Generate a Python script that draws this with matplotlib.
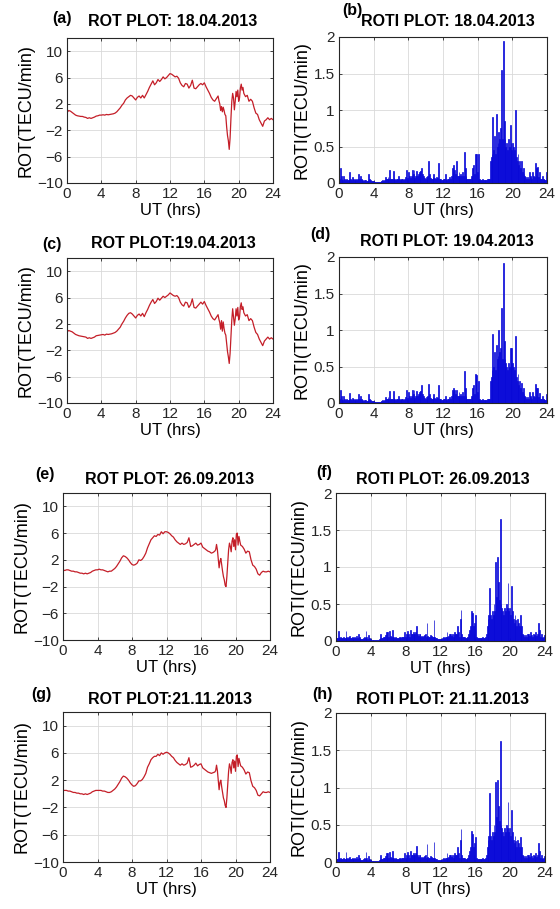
import matplotlib
matplotlib.use('Agg')
import matplotlib.pyplot as plt
import numpy as np

plt.rcParams['font.family'] = ['Liberation Sans', 'DejaVu Sans']

W, H = 560, 909

# ROT sample times (UT hrs): 0.2 h steps, 0.1 h through the evening disturbance
ROT_T = np.round(np.concatenate([np.arange(0, 17.61, 0.2),
                                 np.arange(17.7, 20.61, 0.1),
                                 np.arange(20.8, 24.01, 0.2)]), 2)

# ROT values (TECU/min)
ROT_A = [0.7, 1.0, 0.9, 0.7, 0.5, 0.3, 0.2, 0.15, 0.1, 0.1,
         0.0, -0.05, -0.2, -0.1, -0.2, -0.1, 0.0, 0.15, 0.2, 0.3,
         0.3, 0.35, 0.3, 0.4, 0.35, 0.4, 0.45, 0.5, 0.6, 0.8,
         1.1, 1.4, 1.8, 2.1, 2.6, 2.9, 3.1, 3.3, 3.2, 2.9,
         2.6, 3.0, 3.2, 2.9, 3.3, 2.9, 3.4, 3.9, 4.5, 5.0,
         5.5, 4.9, 5.2, 5.7, 5.4, 5.7, 6.1, 5.8, 6.0, 6.3,
         6.6, 6.5, 6.3, 6.1, 6.2, 5.9, 5.2, 4.8, 4.6, 5.1,
         5.0, 4.4, 4.8, 5.6, 4.4, 4.3, 4.6, 4.9, 5.1, 4.9,
         5.2, 4.6, 4.1, 3.6, 3.0, 2.6, 2.4, 2.8, 3.2,
         2.5, 2.0, 1.0, 1.6, 0.8, 1.5, 1.0, 0.4, 0.2, -1.5,
         -2.8, -3.6, -4.9, -3.2, -0.2, 2.4, 3.6, 2.9, 1.1, 2.4,
         3.9, 3.1, 4.1, 2.4, 2.9, 4.4, 5.0, 4.1, 4.5, 3.6,
         3.1, 3.3, 2.4, 2.7, 2.4, 1.4, 0.6, 0.4, -0.4, -0.9,
         -1.4, -0.6, -0.4, -0.1, -0.4, -0.2, -0.4]

ROT_C = [0.8, 1.0, 0.9, 0.8, 0.6, 0.4, 0.3, 0.2, 0.15, 0.1,
         0.05, 0.0, -0.2, -0.1, -0.2, -0.1, 0.0, 0.2, 0.25, 0.3,
         0.35, 0.4, 0.3, 0.45, 0.4, 0.45, 0.5, 0.6, 0.7, 0.9,
         1.2, 1.5, 2.0, 2.4, 2.9, 3.3, 3.6, 3.7, 3.5, 3.2,
         2.9, 3.3, 3.5, 3.2, 3.6, 3.1, 3.7, 4.2, 4.8, 5.3,
         5.7, 5.1, 5.4, 5.9, 5.6, 5.9, 6.2, 6.0, 6.2, 6.4,
         6.7, 6.5, 6.3, 6.2, 6.3, 6.0, 5.3, 4.9, 4.7, 5.3,
         5.2, 4.5, 4.9, 5.8, 4.5, 4.4, 4.7, 5.0, 5.3, 5.0,
         5.4, 4.8, 4.3, 3.8, 3.2, 2.8, 2.6, 3.0, 3.4,
         2.7, 2.2, 1.2, 2.5, 0.9, 2.3, 1.3, 0.6, 0.3, -1.0,
         -2.2, -3.0, -4.0, -2.5, 0.0, 2.6, 4.3, 3.0, 1.8, 2.8,
         4.3, 3.2, 4.5, 2.6, 3.0, 4.6, 5.2, 4.2, 4.6, 3.7,
         3.2, 3.4, 2.5, 2.8, 2.5, 1.5, 0.7, 0.4, -0.3, -0.8,
         -1.3, -0.6, -0.3, 0.0, -0.3, -0.1, -0.3]

ROT_E = [0.5, 0.4, 0.5, 0.5, 0.4, 0.3, 0.3, 0.2, 0.2, 0.1,
         0.0, 0.0, -0.1, 0.0, -0.1, 0.0, 0.1, 0.3, 0.4, 0.5,
         0.5, 0.6, 0.5, 0.5, 0.4, 0.3, 0.2, 0.3, 0.3, 0.5,
         0.7, 1.0, 1.4, 1.8, 2.3, 2.6, 2.5, 2.3, 2.0, 1.6,
         1.3, 1.2, 1.3, 1.5, 2.0, 1.9, 2.1, 2.5, 3.0, 3.8,
         4.4, 5.0, 5.3, 5.6, 5.5, 5.8, 5.7, 6.2, 5.9, 6.2,
         6.2, 6.1, 5.9, 5.6, 5.4, 5.0, 4.7, 4.5, 4.3, 4.5,
         4.3, 4.4, 4.6, 5.3, 4.0, 4.1, 4.3, 4.5, 4.2, 4.3,
         4.5, 3.9, 3.7, 3.5, 3.3, 3.2, 3.0, 3.1, 3.3,
         3.5, 4.3, 3.5, 2.2, 0.8, 1.8, 2.2, 1.2, 0.3, -0.5,
         -1.0, -1.8, -2.0, -0.5, 1.5, 3.5, 4.5, 4.0, 3.2, 4.8,
         5.3, 4.0, 5.0, 3.5, 5.8, 6.0, 4.2, 5.5, 4.8, 4.2,
         4.0, 3.6, 3.0, 3.3, 3.2, 2.0, 1.2, 1.0, 0.6, -0.1,
         -0.3, 0.1, 0.3, 0.2, 0.2, 0.3, 0.2]

ROT_G = [0.5, 0.5, 0.5, 0.4, 0.4, 0.3, 0.2, 0.2, 0.1, 0.1,
         0.0, 0.0, -0.1, 0.0, -0.1, 0.0, 0.1, 0.3, 0.4, 0.5,
         0.5, 0.5, 0.5, 0.4, 0.4, 0.3, 0.2, 0.2, 0.3, 0.5,
         0.7, 1.0, 1.4, 1.8, 2.3, 2.6, 2.5, 2.3, 2.0, 1.6,
         1.3, 1.1, 1.2, 1.5, 1.9, 1.9, 2.1, 2.5, 3.0, 3.9,
         4.4, 5.0, 5.3, 5.5, 5.5, 5.8, 5.6, 6.0, 5.8, 6.0,
         6.1, 6.0, 5.8, 5.5, 5.3, 4.9, 4.6, 4.4, 4.2, 4.4,
         4.2, 4.3, 4.5, 5.3, 3.9, 4.0, 4.2, 4.5, 4.1, 4.3,
         4.4, 3.8, 3.6, 3.4, 3.2, 3.1, 3.0, 3.1, 3.2,
         3.4, 4.2, 3.4, 2.0, 0.6, 1.7, 2.0, 1.0, 0.2, -0.6,
         -1.0, -1.7, -2.0, -0.6, 1.4, 3.3, 4.4, 3.9, 3.0, 4.6,
         5.0, 3.8, 4.8, 3.3, 5.5, 5.7, 4.0, 5.2, 4.6, 4.1,
         3.9, 3.5, 2.9, 3.2, 3.1, 1.9, 1.1, 0.9, 0.5, -0.2,
         -0.3, 0.0, 0.3, 0.2, 0.2, 0.3, 0.2]

# ROTI (TECU/min): 0.1 h bins, one row per UT hour
ROTI_B = [
    [0.06, 0.20, 0.09, 0.05, 0.04, 0.10, 0.05, 0.04, 0.05, 0.04],
    [0.04, 0.06, 0.15, 0.05, 0.04, 0.08, 0.05, 0.04, 0.04, 0.05],
    [0.04, 0.05, 0.13, 0.06, 0.10, 0.05, 0.04, 0.04, 0.03, 0.04],
    [0.04, 0.03, 0.03, 0.04, 0.13, 0.05, 0.04, 0.03, 0.03, 0.03],
    [0.02, 0.02, 0.02, 0.02, 0.02, 0.02, 0.02, 0.02, 0.03, 0.03],
    [0.04, 0.03, 0.04, 0.08, 0.06, 0.05, 0.08, 0.05, 0.18, 0.06],
    [0.05, 0.06, 0.17, 0.07, 0.05, 0.04, 0.05, 0.06, 0.10, 0.05],
    [0.04, 0.05, 0.06, 0.05, 0.04, 0.05, 0.08, 0.18, 0.06, 0.07],
    [0.15, 0.09, 0.07, 0.10, 0.18, 0.12, 0.18, 0.07, 0.09, 0.17],
    [0.10, 0.12, 0.15, 0.17, 0.16, 0.20, 0.12, 0.09, 0.07, 0.06],
    [0.08, 0.07, 0.10, 0.30, 0.12, 0.07, 0.06, 0.05, 0.08, 0.12],
    [0.07, 0.06, 0.08, 0.07, 0.28, 0.06, 0.05, 0.05, 0.04, 0.04],
    [0.05, 0.06, 0.12, 0.05, 0.04, 0.05, 0.06, 0.08, 0.06, 0.10],
    [0.20, 0.15, 0.25, 0.18, 0.12, 0.30, 0.10, 0.09, 0.15, 0.10],
    [0.12, 0.09, 0.15, 0.10, 0.42, 0.20, 0.09, 0.06, 0.06, 0.05],
    [0.05, 0.06, 0.10, 0.09, 0.20, 0.25, 0.12, 0.40, 0.40, 0.15],
    [0.40, 0.06, 0.05, 0.04, 0.04, 0.05, 0.04, 0.04, 0.04, 0.04],
    [0.04, 0.05, 0.05, 0.06, 0.30, 0.35, 0.40, 0.90, 0.45, 0.65],
    [0.40, 0.95, 0.50, 0.55, 0.70, 0.60, 0.75, 1.55, 0.60, 1.95],
    [0.85, 0.60, 0.50, 0.55, 0.45, 0.60, 0.50, 0.80, 0.55, 0.45],
    [0.55, 0.50, 0.45, 1.00, 0.35, 0.30, 0.40, 0.25, 0.30, 0.20],
    [0.30, 0.15, 0.20, 0.12, 0.10, 0.08, 0.06, 0.08, 0.06, 0.15],
    [0.10, 0.08, 0.06, 0.15, 0.10, 0.08, 0.28, 0.20, 0.10, 0.22],
    [0.08, 0.15, 0.06, 0.05, 0.10, 0.05, 0.05, 0.04, 0.04, 0.15],
]

ROTI_D = [
    [0.06, 0.18, 0.09, 0.05, 0.04, 0.09, 0.05, 0.04, 0.05, 0.04],
    [0.04, 0.06, 0.14, 0.05, 0.04, 0.07, 0.05, 0.04, 0.04, 0.05],
    [0.04, 0.05, 0.12, 0.06, 0.10, 0.05, 0.04, 0.04, 0.03, 0.04],
    [0.04, 0.03, 0.03, 0.04, 0.13, 0.05, 0.04, 0.03, 0.03, 0.03],
    [0.02, 0.02, 0.02, 0.02, 0.02, 0.02, 0.02, 0.02, 0.03, 0.03],
    [0.04, 0.03, 0.04, 0.08, 0.06, 0.05, 0.08, 0.05, 0.17, 0.06],
    [0.05, 0.06, 0.17, 0.07, 0.05, 0.04, 0.05, 0.06, 0.10, 0.05],
    [0.04, 0.05, 0.06, 0.05, 0.04, 0.05, 0.08, 0.18, 0.06, 0.07],
    [0.15, 0.09, 0.07, 0.10, 0.18, 0.12, 0.18, 0.07, 0.09, 0.17],
    [0.10, 0.12, 0.15, 0.17, 0.16, 0.25, 0.12, 0.09, 0.07, 0.06],
    [0.08, 0.07, 0.10, 0.26, 0.12, 0.07, 0.06, 0.05, 0.08, 0.12],
    [0.07, 0.06, 0.08, 0.07, 0.25, 0.06, 0.05, 0.05, 0.04, 0.04],
    [0.05, 0.06, 0.10, 0.05, 0.04, 0.05, 0.06, 0.08, 0.06, 0.10],
    [0.18, 0.15, 0.20, 0.18, 0.12, 0.18, 0.10, 0.09, 0.15, 0.10],
    [0.12, 0.09, 0.15, 0.10, 0.44, 0.20, 0.09, 0.06, 0.06, 0.05],
    [0.05, 0.06, 0.10, 0.09, 0.20, 0.25, 0.12, 0.40, 0.38, 0.15],
    [0.30, 0.06, 0.05, 0.04, 0.04, 0.05, 0.04, 0.04, 0.04, 0.04],
    [0.04, 0.05, 0.05, 0.06, 0.30, 0.35, 0.45, 0.95, 0.50, 0.70],
    [0.45, 0.80, 0.60, 0.65, 1.00, 0.70, 0.75, 1.30, 0.60, 1.92],
    [0.85, 0.60, 0.55, 0.50, 0.45, 0.55, 0.50, 0.75, 0.55, 0.75],
    [0.55, 0.50, 0.45, 0.92, 0.35, 0.30, 0.40, 0.25, 0.30, 0.20],
    [0.28, 0.15, 0.20, 0.12, 0.10, 0.08, 0.06, 0.08, 0.06, 0.15],
    [0.10, 0.08, 0.06, 0.15, 0.10, 0.08, 0.26, 0.20, 0.10, 0.20],
    [0.08, 0.14, 0.06, 0.05, 0.10, 0.05, 0.05, 0.04, 0.04, 0.12],
]

ROTI_F = [
    [0.04, 0.04, 0.14, 0.05, 0.04, 0.05, 0.04, 0.04, 0.05, 0.04],
    [0.04, 0.13, 0.05, 0.04, 0.05, 0.07, 0.04, 0.04, 0.05, 0.04],
    [0.04, 0.05, 0.04, 0.07, 0.04, 0.10, 0.05, 0.04, 0.03, 0.03],
    [0.03, 0.04, 0.05, 0.04, 0.13, 0.05, 0.03, 0.08, 0.04, 0.03],
    [0.02, 0.02, 0.02, 0.02, 0.02, 0.02, 0.02, 0.02, 0.02, 0.03],
    [0.04, 0.10, 0.04, 0.04, 0.05, 0.06, 0.08, 0.12, 0.06, 0.12],
    [0.05, 0.14, 0.07, 0.05, 0.15, 0.06, 0.05, 0.04, 0.05, 0.04],
    [0.04, 0.04, 0.05, 0.05, 0.04, 0.05, 0.06, 0.06, 0.12, 0.06],
    [0.10, 0.07, 0.13, 0.09, 0.06, 0.15, 0.10, 0.09, 0.12, 0.10],
    [0.09, 0.12, 0.20, 0.09, 0.07, 0.10, 0.09, 0.06, 0.07, 0.06],
    [0.07, 0.08, 0.10, 0.06, 0.25, 0.07, 0.05, 0.06, 0.08, 0.07],
    [0.06, 0.05, 0.28, 0.05, 0.04, 0.04, 0.03, 0.03, 0.03, 0.03],
    [0.03, 0.03, 0.04, 0.05, 0.04, 0.05, 0.06, 0.12, 0.06, 0.07],
    [0.10, 0.09, 0.07, 0.10, 0.06, 0.09, 0.12, 0.09, 0.10, 0.20],
    [0.12, 0.06, 0.30, 0.42, 0.10, 0.06, 0.05, 0.05, 0.04, 0.04],
    [0.05, 0.06, 0.09, 0.15, 0.20, 0.40, 0.38, 0.20, 0.10, 0.25],
    [0.35, 0.06, 0.04, 0.04, 0.04, 0.04, 0.04, 0.04, 0.05, 0.04],
    [0.04, 0.06, 0.10, 0.20, 0.30, 0.35, 0.72, 0.35, 0.30, 0.40],
    [0.35, 0.50, 0.40, 1.07, 0.60, 1.13, 0.80, 0.55, 1.65, 0.50],
    [0.45, 0.40, 0.35, 0.45, 0.40, 0.50, 0.45, 0.78, 0.40, 0.45],
    [0.35, 0.75, 0.40, 0.30, 0.25, 0.35, 0.28, 0.20, 0.30, 0.25],
    [0.20, 0.35, 0.15, 0.20, 0.10, 0.08, 0.06, 0.08, 0.06, 0.10],
    [0.08, 0.10, 0.07, 0.12, 0.08, 0.06, 0.10, 0.08, 0.06, 0.12],
    [0.07, 0.10, 0.25, 0.15, 0.06, 0.10, 0.05, 0.04, 0.05, 0.08],
]

ROTI_H = [
    [0.04, 0.04, 0.13, 0.05, 0.04, 0.05, 0.04, 0.04, 0.05, 0.04],
    [0.04, 0.13, 0.05, 0.04, 0.05, 0.07, 0.04, 0.04, 0.05, 0.04],
    [0.04, 0.05, 0.04, 0.07, 0.04, 0.09, 0.05, 0.04, 0.03, 0.03],
    [0.03, 0.04, 0.05, 0.04, 0.13, 0.05, 0.03, 0.08, 0.04, 0.03],
    [0.02, 0.02, 0.02, 0.02, 0.02, 0.02, 0.02, 0.02, 0.02, 0.03],
    [0.04, 0.10, 0.04, 0.04, 0.05, 0.06, 0.08, 0.12, 0.06, 0.12],
    [0.05, 0.14, 0.07, 0.05, 0.15, 0.06, 0.05, 0.04, 0.05, 0.04],
    [0.04, 0.04, 0.05, 0.05, 0.04, 0.05, 0.06, 0.06, 0.12, 0.06],
    [0.10, 0.07, 0.13, 0.09, 0.06, 0.15, 0.10, 0.09, 0.12, 0.10],
    [0.09, 0.12, 0.22, 0.09, 0.07, 0.10, 0.09, 0.06, 0.07, 0.06],
    [0.07, 0.08, 0.10, 0.06, 0.24, 0.07, 0.05, 0.06, 0.08, 0.07],
    [0.06, 0.05, 0.27, 0.05, 0.04, 0.04, 0.03, 0.03, 0.03, 0.03],
    [0.03, 0.03, 0.04, 0.05, 0.04, 0.05, 0.06, 0.12, 0.06, 0.07],
    [0.10, 0.09, 0.07, 0.10, 0.06, 0.09, 0.12, 0.09, 0.10, 0.20],
    [0.12, 0.06, 0.30, 0.44, 0.10, 0.06, 0.05, 0.05, 0.04, 0.04],
    [0.05, 0.06, 0.09, 0.15, 0.20, 0.42, 0.38, 0.20, 0.10, 0.25],
    [0.33, 0.06, 0.04, 0.04, 0.04, 0.04, 0.04, 0.04, 0.05, 0.04],
    [0.04, 0.06, 0.10, 0.20, 0.30, 0.35, 0.92, 0.35, 0.30, 0.40],
    [0.35, 0.50, 0.40, 1.07, 0.60, 1.10, 0.75, 0.55, 1.62, 0.50],
    [0.45, 0.40, 0.35, 0.45, 0.40, 0.50, 0.45, 0.80, 0.40, 0.45],
    [0.35, 0.70, 0.40, 0.30, 0.25, 0.35, 0.28, 0.20, 0.30, 0.25],
    [0.20, 0.34, 0.15, 0.20, 0.10, 0.08, 0.06, 0.08, 0.06, 0.10],
    [0.08, 0.10, 0.07, 0.12, 0.08, 0.06, 0.10, 0.08, 0.06, 0.12],
    [0.07, 0.10, 0.25, 0.15, 0.06, 0.10, 0.05, 0.04, 0.05, 0.08],
]

ROT_TICKS = [-10, -6, -2, 2, 6, 10]
ROTI_TICKS = [0, 0.5, 1, 1.5, 2]
ROTI_TICKLABELS = ['0', '0.5', '1', '1.5', '2']
UT_TICKS = [0, 4, 8, 12, 16, 20, 24]

# panels: (letter, title, kind, data, axes box px: left, right, top, bottom,
#          title centre px, letter centre px)
PANELS = [
    ('(a)', 'ROT PLOT: 18.04.2013', 'rot', ROT_A, (67, 273, 38, 183), (173, 22), (62, 18)),
    ('(b)', 'ROTI PLOT: 18.04.2013', 'roti', ROTI_B, (339, 547, 37, 183), (448, 22), (352, 11)),
    ('(c)', 'ROT PLOT:19.04.2013', 'rot', ROT_C, (67, 273, 258, 403), (173, 243), (52, 245)),
    ('(d)', 'ROTI PLOT: 19.04.2013', 'roti', ROTI_D, (339, 547, 257, 403), (447, 242), (320, 235)),
    ('(e)', 'ROT PLOT: 26.09.2013', 'rot', ROT_E, (63, 270, 493, 640), (170, 480), (45, 475)),
    ('(f)', 'ROTI PLOT: 26.09.2013', 'roti', ROTI_F, (336, 545, 493, 641), (443, 480), (324, 473)),
    ('(g)', 'ROT PLOT:21.11.2013', 'rot', ROT_G, (63, 270, 712, 862), (170, 700), (41, 695)),
    ('(h)', 'ROTI PLOT: 21.11.2013', 'roti', ROTI_H, (336, 545, 713, 862), (442, 700), (322, 695)),
]


def style_axes(ax):
    ax.grid(True, color='#d9d9d9', linewidth=0.6)
    ax.set_axisbelow(True)
    ax.tick_params(direction='in', length=2.5, width=0.6, labelsize=11,
                   colors='#262626', top=True, right=True, pad=3)
    for s in ax.spines.values():
        s.set_color('#262626')
        s.set_linewidth(0.8)
    ax.set_xlim(0, 24)
    ax.set_xticks(UT_TICKS)
    ax.set_xlabel('UT (hrs)', fontsize=12, labelpad=1)


fig = plt.figure(figsize=(W / 100, H / 100), dpi=100)

for letter, title, kind, data, box, tpos, lpos in PANELS:
    l, r, t, b = box
    ax = fig.add_axes([l / W, 1 - b / H, (r - l) / W, (b - t) / H])
    style_axes(ax)
    if kind == 'rot':
        ax.plot(ROT_T, data, color='#c41e28', linewidth=0.9)
        ax.set_ylim(-10, 12)
        ax.set_yticks(ROT_TICKS)
        ax.set_ylabel('ROT(TECU/min)', fontsize=13, labelpad=2)
    else:
        vals = np.array(data).ravel()
        edges = np.arange(len(vals)) * 0.1
        ax.bar(edges, vals, width=0.1, align='edge', color='#0000ff',
               edgecolor='#0a0ad0', linewidth=0.5)
        ax.set_ylim(0, 2)
        ax.set_yticks(ROTI_TICKS)
        ax.set_yticklabels(ROTI_TICKLABELS)
        ax.set_ylabel('ROTI(TECU/min)', fontsize=13, labelpad=2)
    fig.text(tpos[0] / W, 1 - tpos[1] / H, title, ha='center', va='center',
             fontsize=11.5, fontweight='bold')
    fig.text(lpos[0] / W, 1 - lpos[1] / H, letter, ha='center', va='center',
             fontsize=11.5, fontweight='bold')

fig.savefig('out.png', dpi=100, facecolor='white')
